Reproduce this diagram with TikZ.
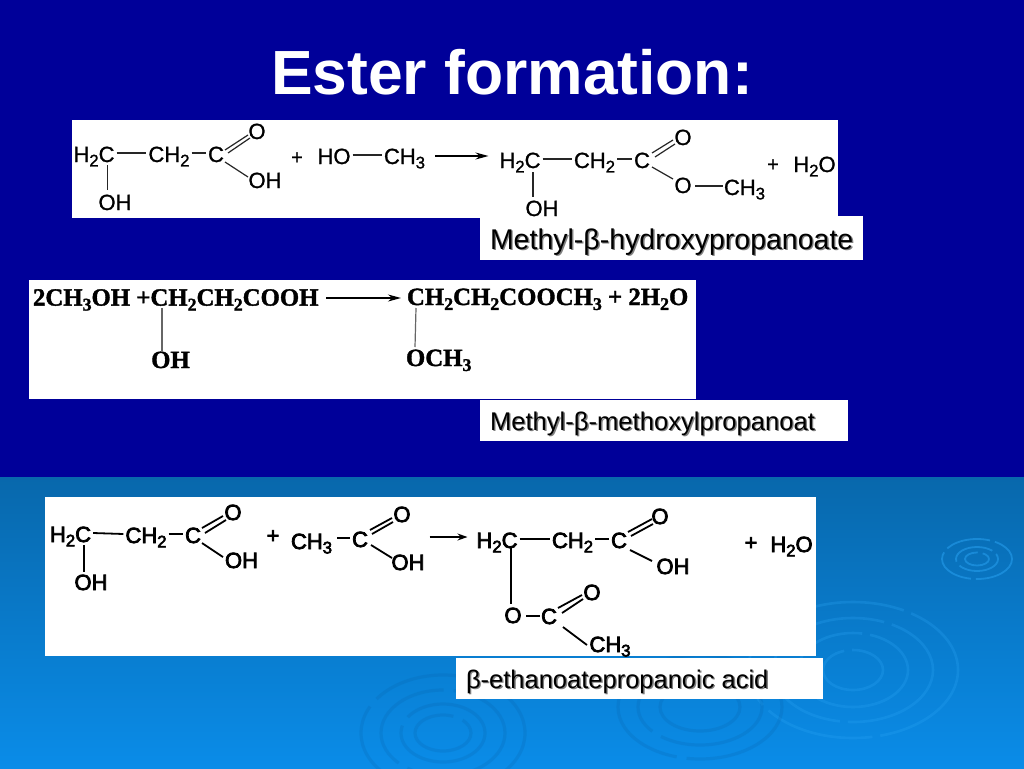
\documentclass[tikz,border=0pt]{standalone}
\usepackage{fontspec}
\setmainfont{Liberation Sans}
\newfontfamily\timesfam[FakeBold=1.5]{Liberation Serif}
\newfontfamily\lightbold[FakeBold=1.2]{Liberation Sans}
\newfontfamily\fakebold[FakeBold=3.5]{Liberation Sans}
\usetikzlibrary{arrows.meta}
\definecolor{navybg}{HTML}{000099}
\definecolor{bluetop}{HTML}{0868AC}
\definecolor{bluebot}{HTML}{0A8CE8}
\definecolor{ripplelight}{HTML}{2AA4F4}
\definecolor{rippledark}{HTML}{0560A8}
\newcommand\sbs[1]{\raisebox{-.2em}{\scalebox{.76}{#1}}}
\newcommand\tsb[1]{\raisebox{-.2em}{\scalebox{.72}{#1}}}
\newcommand\shd[1]{\makebox[0pt][l]{\hspace{1.4pt}\raisebox{-1.4pt}{\textcolor{black!50}{#1}}}#1}
\newcommand\bnd[5][]{\draw[bondline,#1] ([shift={(#3)}]#2.center) -- ([shift={(#5)}]#4.center);}
\newcommand\hb[3][]{\draw[bondline,#1] ([yshift=9pt]#2.east) -- ([yshift=9pt]#3.west);}
\tikzset{
  every node/.style={inner sep=0pt,outer sep=2pt,text height=8pt,text depth=8pt,text=black},
  chem/.style={font=\fontsize{22}{24}\lightbold},
  chemb/.style={font=\fontsize{22}{24}\fakebold},
  plusa/.style={font=\fontsize{20}{22}\lightbold},
  plusb/.style={font=\fontsize{22}{24}\fakebold},
  chemt/.style={font=\fontsize{24.8}{28}\timesfam\bfseries,anchor=west},
  bondline/.style={line width=1.2pt,draw=black!85},
  heavy/.style={line width=1.8pt,draw=black},
  greybond/.style={line width=1.2pt,draw=black!60},
  rxarrow/.style={line width=1.3pt,draw=black,-{Stealth[length=13pt,width=7pt]}},
  lab/.style={anchor=west},
  whitebox/.style={fill=white},
  ripple/.style={draw=ripplelight,opacity=.28,line width=2.6pt,dash pattern=on 110pt off 8pt},
  rippled/.style={draw=rippledark,opacity=.2,line width=3.2pt,dash pattern=on 120pt off 10pt}
}
\begin{document}
\begin{tikzpicture}[x=1pt,y=-1pt]
\useasboundingbox (0,0) rectangle (1024,768);
% backgrounds
\fill[navybg] (0,0) rectangle (1024,477);
\fill[top color=bluetop,bottom color=bluebot] (0,477) rectangle (1024,768);
% ripples
\begin{scope}
\clip (0,477) rectangle (1024,768);
\foreach \rx/\ry in {12/6.5,21/12,35/20}
  \draw[ripple,opacity=.5,line width=1.8pt,dash pattern=on 45pt off 5pt] (977,559) ellipse [x radius=\rx,y radius=\ry];
\foreach \rx/\ry in {30/20,55/37,80/52,105/68}
  \draw[ripple] (853,670) ellipse [x radius=\rx,y radius=\ry];
\foreach \rx/\ry in {28/18,42/29,62/43,82/58}
  \draw[rippled] (443,733) ellipse [x radius=\rx,y radius=\ry];
\foreach \rx/\ry in {40/24,62/38,82/52}
  \draw[rippled] (700,707) ellipse [x radius=\rx,y radius=\ry];
\end{scope}
% title
\node[font=\fontsize{62.4}{70}\selectfont\bfseries,text=white] (title) at (512,94) {Ester formation:};
% panels
\fill[whitebox] (72,120) rectangle (838,218);
\fill[whitebox] (480,216) rectangle (863,260);
\fill[whitebox] (29,280) rectangle (696,399);
\fill[whitebox] (480,400) rectangle (848,441);
\fill[whitebox] (45,497) rectangle (816,656);
\fill[whitebox] (456,658) rectangle (823,699);
% labels
\node[lab,font=\fontsize{28.5}{32}\selectfont] (l1) at (488,249) {\shd{Methyl-β-hydroxypropanoate}};
\node[lab,font=\fontsize{25.6}{30}\selectfont] (l2) at (488,430) {\shd{Methyl-β-methoxylpropanoat}};
\node[lab,font=\fontsize{25.5}{30}\selectfont] (l3) at (464,688) {\shd{β-ethanoatepropanoic acid}};
% ---------- reaction 1
\begin{scope}[every node/.append style={chem}]
\node (a1) at (94,162) {H\sbs{2}C};
\node (a2) at (169,162) {CH\sbs{2}};
\node (a3) at (216,162) {C};
\node (a4) at (257,139) {O};
\node (a5) at (265,188) {OH};
\node (a6) at (115,210) {OH};
\node[plusa] (ap) at (297,164) {+};
\node (a7) at (334,164) {HO};
\node (a8) at (404.5,164) {CH\sbs{3}};
\node (p1) at (520,168) {H\sbs{2}C};
\node (p2) at (594.5,168) {CH\sbs{2}};
\node (p3) at (642,168) {C};
\node (p4) at (683,145) {O};
\node (p5) at (683,193) {O};
\node (p6) at (744.5,195) {CH\sbs{3}};
\node (p7) at (542,216) {OH};
\node[plusa] (pp) at (773,171) {+};
\node (p8) at (814.5,172) {H\sbs{2}O};
\end{scope}
\hb{a1}{a2}
\hb{a2}{a3}
\bnd{a3}{9,-12}{a4}{-9,-4}
\bnd{a3}{12,-9}{a4}{-7,-1}
\bnd{a3}{9,0}{a5}{-17,-11}
\bnd{a1}{13.7,3}{a6}{-7.3,-20}
\hb{a7}{a8}
\draw[rxarrow] ([xshift=8pt,yshift=8pt]a8.east) -- ([xshift=-9pt,yshift=12pt]p1.west);
\hb{p1}{p2}
\hb{p2}{p3}
\bnd{p3}{10,-15}{p4}{-10,-5}
\bnd{p3}{13,-11}{p4}{-8,-1}
\bnd{p3}{10,-1}{p5}{-10,-14}
\bnd{p5}{12,-7}{p6}{-22,-9}
\bnd{p1}{13,4}{p7}{-9,-19}
% ---------- reaction 2
\node[chemt] (b1) at (31,305.6) {2CH\tsb{3}OH +CH\tsb{2}CH\tsb{2}COOH};
\node[chemt,anchor=center] (b2) at (170.5,368) {OH};
\node[chemt] (b3) at (405,305) {CH\tsb{2}CH\tsb{2}COOCH\tsb{3} + 2H\tsb{2}O};
\node[chemt] (b4) at (404,366) {OCH\tsb{3}};
\draw[greybond] ([shift={(131,2.5)}]b1.west) -- ([shift={(-8.5,-16)}]b2.center);
\draw[greybond] ([shift={(11,3)}]b3.west) -- ([shift={(11,-19)}]b4.west);
\draw[rxarrow] ([shift={(6,-7.6)}]b1.east) -- ([shift={(-4,-7)}]b3.west);
% ---------- reaction 3
\begin{scope}[every node/.append style={chemb}]
\node (c1) at (70.5,542) {H\sbs{2}C};
\node (c2) at (146,543) {CH\sbs{2}};
\node (c3) at (193,543) {C};
\node (c4) at (233,520) {O};
\node (c5) at (241.5,568) {OH};
\node (c6) at (91,590) {OH};
\node[plusb] (cp) at (273,543) {+};
\node (c7) at (311.5,549) {CH\sbs{3}};
\node (c8) at (360,547) {C};
\node (c9) at (402,522) {O};
\node (c10) at (408,570) {OH};
\node (d1) at (497,548) {H\sbs{2}C};
\node (d2) at (572.5,548) {CH\sbs{2}};
\node (d3) at (619,548) {C};
\node (d4) at (660,524) {O};
\node (d5) at (673,574) {OH};
\node[plusb] (dp) at (751,550) {+};
\node (d6) at (791.5,552) {H\sbs{2}O};
\node (d7) at (513,623) {O};
\node (d8) at (549,624) {C};
\node (d9) at (592,600) {O};
\node (d10) at (610,652) {CH\sbs{3}};
\end{scope}
\hb[heavy]{c1}{c2}
\hb[heavy]{c2}{c3}
\bnd[heavy]{c3}{9,-15}{c4}{-10,-4}
\bnd[heavy]{c3}{12,-10}{c4}{-7,0}
\bnd[heavy]{c3}{9,0}{c5}{-18.5,-11}
\bnd[heavy]{c1}{13.5,3}{c6}{-7,-18}
\bnd[heavy]{c7}{25.5,-11}{c8}{-10,-9}
\bnd[heavy]{c8}{10,-17}{c9}{-10,-4}
\bnd[heavy]{c8}{12,-13}{c9}{-9,0}
\bnd[heavy]{c8}{11,-2}{c10}{-16,-12}
\draw[rxarrow,-{Stealth[length=10pt,width=7pt]}] ([shift={(3,-33)}]c10.east) -- ([shift={(-7,-11)}]d1.west);
\hb[heavy]{d1}{d2}
\hb[heavy]{d2}{d3}
\bnd[heavy]{d3}{9,-16}{d4}{-8,-5}
\bnd[heavy]{d3}{12,-12}{d4}{-7,0}
\bnd[heavy]{d3}{11,2}{d5}{-21,-13}
\bnd[heavy]{d1}{14,0}{d7}{-2,-19}
\bnd[heavy]{d7}{13,-7}{d8}{-9,-8}
\bnd[heavy]{d8}{9,-16}{d9}{-10,-5}
\bnd[heavy]{d8}{13,-11}{d9}{-9,-1}
\bnd[heavy]{d8}{14,3}{d10}{-23,-7}
\end{tikzpicture}
\end{document}
